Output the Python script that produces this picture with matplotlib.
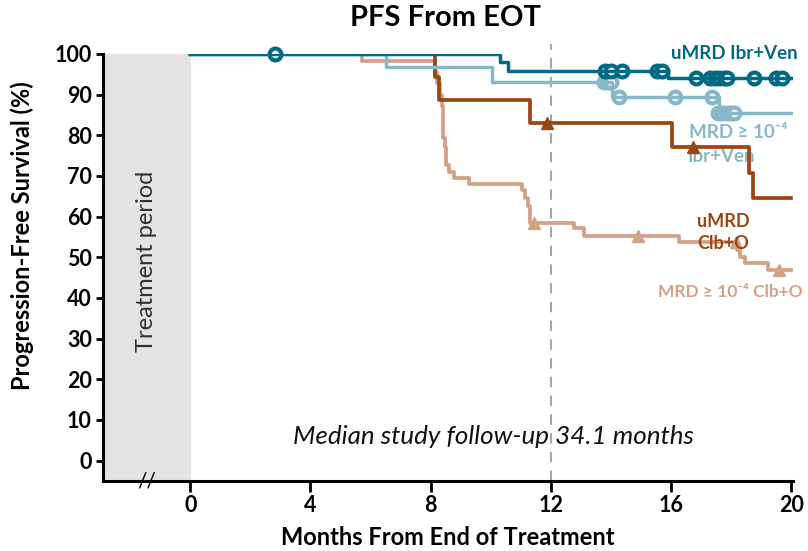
import numpy as np
import matplotlib
matplotlib.use("Agg")
from matplotlib import pyplot as plt

plt.rcParams['font.family'] = ['Lato', 'DejaVu Sans']

# colores de las curvas
c_teal = '#006a85'
c_lblue = '#86b8c7'
c_brown = '#9b4612'
c_tan = '#d3a185'

# uMRD Ibr+Ven
t_uibr = [0, 10.3, 10.56, 15.89, 20.0]
s_uibr = [100, 98.1, 95.9, 94.1, 94.1]
cens_t_uibr = [2.83, 13.8, 13.98, 14.37, 15.53, 15.7, 16.84, 17.3, 17.45, 17.6, 17.75, 17.86, 18.75, 19.47, 19.69]
cens_s_uibr = [100, 95.9, 95.9, 95.9, 95.9, 95.9, 94.1, 94.1, 94.1, 94.1, 94.1, 94.1, 94.1, 94.1, 94.1]

# MRD >= 10-4 Ibr+Ven
t_mibr = [0, 6.5, 10.04, 14.03, 17.58, 20.0]
s_mibr = [100, 96.8, 93.2, 89.5, 85.5, 85.5]
cens_t_mibr = [13.78, 13.9, 14.0, 14.25, 16.14, 17.36, 17.55, 17.7, 17.85, 18.0, 18.1]
cens_s_mibr = [93.2, 93.2, 93.2, 89.5, 89.5, 89.5, 85.5, 85.5, 85.5, 85.5, 85.5]

# uMRD Clb+O
t_uclb = [0, 8.15, 8.27, 11.31, 16.04, 18.6, 18.72, 20.0]
s_uclb = [100, 94.3, 88.7, 83.1, 77.2, 70.8, 64.6, 64.6]
cens_t_uclb = [11.87, 16.73]
cens_s_uclb = [83.1, 77.2]

# MRD >= 10-4 Clb+O
t_mclb = [0, 5.72, 8.15, 8.22, 8.3, 8.36, 8.42, 8.47, 8.52, 8.62, 8.76, 9.29, 11.04, 11.15,
          11.23, 11.29, 12.76, 13.09, 16.25, 18.19, 18.3, 18.45, 19.21, 20.0]
s_mclb = [100, 98.4, 95.5, 92.8, 90.0, 87.2, 79.3, 77.2, 72.7, 71.1, 69.5, 68.0, 66.6, 64.5,
          62.5, 58.4, 57.2, 55.3, 53.7, 51.8, 50.2, 48.6, 46.9, 46.9]
cens_t_mclb = [11.42, 14.9, 18.15, 19.58]
cens_s_mclb = [58.4, 55.3, 53.7, 46.9]

x_ticks = [0, 4, 8, 12, 16, 20]
y_ticks = [0, 10, 20, 30, 40, 50, 60, 70, 80, 90, 100]

fig = plt.figure(figsize=(8.08, 5.51), dpi=100)
ax = fig.add_axes([103/808, 1-481/551, 690/808, 427/551])
ax.set_xlim(-2.9, 20.05)
ax.set_ylim(-5, 100)

# periodo de tratamiento
ax.axvspan(-2.9, 0, color='#e3e3e3', zorder=0)
ax.text(-1.45, 49, 'Treatment period', rotation=90, ha='center', va='center',
        fontsize=17, color='#303030')

# linea de seguimiento
ax.plot([12, 12], [-5, 102.5], color='#a6a6a6', lw=1.5, ls=(0, (5, 4)), clip_on=False, zorder=1)

# marcas de censura (debajo de las lineas)
ax.plot(cens_t_mibr, cens_s_mibr, ls='none', marker='o', ms=8.5, mfc='white', mec=c_lblue, mew=3, zorder=4.5, clip_on=False)
ax.plot(cens_t_uibr, cens_s_uibr, ls='none', marker='o', ms=8.5, mfc='white', mec=c_teal, mew=3, zorder=5.5, clip_on=False)

# curvas
ax.plot(t_mclb, s_mclb, drawstyle='steps-post', color=c_tan, lw=2.7, zorder=3)
ax.plot(t_uclb, s_uclb, drawstyle='steps-post', color=c_brown, lw=2.7, zorder=4)
ax.plot(t_mibr, s_mibr, drawstyle='steps-post', color=c_lblue, lw=2.5, zorder=5)
ax.plot(t_uibr, s_uibr, drawstyle='steps-post', color=c_teal, lw=2.5, zorder=6)

ax.plot(cens_t_mclb, cens_s_mclb, ls='none', marker='^', ms=8, color=c_tan, zorder=3, clip_on=False)
ax.plot(cens_t_uclb, cens_s_uclb, ls='none', marker='^', ms=8, color=c_brown, zorder=4, clip_on=False)

# etiquetas de las curvas
ax.text(20.2, 100.2, 'uMRD Ibr+Ven', color=c_teal, fontsize=13.5, fontweight='bold',
        ha='right', va='center', clip_on=False)
ax.text(16.6, 80.8, 'MRD ≥ 10⁻⁴', color=c_lblue, fontsize=13.5, fontweight='bold', ha='left', va='center')
ax.text(16.55, 74.7, 'Ibr+Ven', color=c_lblue, fontsize=13.5, fontweight='bold', ha='left', va='center')
ax.text(16.87, 58.7, 'uMRD', color=c_brown, fontsize=13, fontweight='bold', ha='left', va='center')
ax.text(16.87, 53.3, 'Clb+O', color=c_brown, fontsize=13, fontweight='bold', ha='left', va='center')
ax.text(15.55, 41.5, 'MRD ≥ 10⁻⁴ Clb+O', color=c_tan, fontsize=12.5, fontweight='bold',
        ha='left', va='center', clip_on=False)

ax.text(10.1, 5.9, 'Median study follow-up 34.1 months', fontsize=18.7, style='italic',
        ha='center', va='center', color='#111111')

# corte del eje
ax.text(-1.45, -5, '//', fontsize=15, ha='center', va='center', color='black', clip_on=False)

# ejes
for side in ['top', 'right']:
    ax.spines[side].set_visible(False)
for side in ['left', 'bottom']:
    ax.spines[side].set_linewidth(2.2)
ax.set_xticks(x_ticks)
ax.set_yticks(y_ticks)
ax.tick_params(axis='y', length=5, width=2, labelsize=15.5, pad=3)
ax.tick_params(axis='x', length=8, width=2, labelsize=15.5, pad=2)
for lab in ax.get_xticklabels() + ax.get_yticklabels():
    lab.set_fontweight('bold')

fig.text(0.551, 0.967, 'PFS From EOT', fontsize=21, fontweight='bold', ha='center', va='center')
fig.text(0.027, 0.572, 'Progression-Free Survival (%)', fontsize=17, fontweight='bold',
         rotation=90, ha='center', va='center')
fig.text(0.554, 0.024, 'Months From End of Treatment', fontsize=17, fontweight='bold',
         ha='center', va='center')

fig.savefig('out.png', dpi=100)
